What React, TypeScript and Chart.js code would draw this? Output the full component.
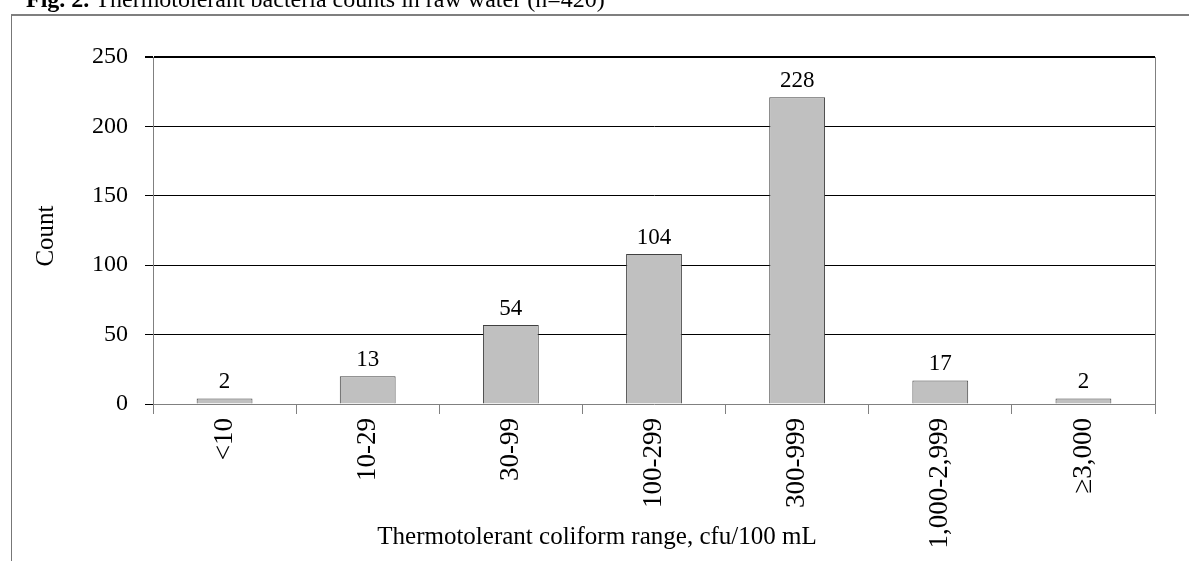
import React, { useEffect, useRef } from "react";
import { Chart, registerables } from "chart.js";

Chart.register(...registerables);

const categories = ["<10", "10-29", "30-99", "100-299", "300-999", "1,000-2,999", "≥3,000"];
// bar heights as drawn in the picture
const barHeights = [4, 20, 57, 108, 221, 17, 4];
// printed value labels above the bars
const valueLabels = ["2", "13", "54", "104", "228", "17", "2"];
const yTicks = [0, 50, 100, 150, 200, 250];

const titleBold = "Fig. 2.";
const titleRest = " Thermotolerant bacteria counts in raw water (n=420)";
const yTitle = "Count";
const xTitle = "Thermotolerant coliform range, cfu/100 mL";

const FONT = "'Liberation Serif', 'Times New Roman', serif";

const decorPlugin = {
  id: "decor",
  beforeDraw(chart: any) {
    const ctx = chart.ctx;
    ctx.save();
    ctx.fillStyle = "#ffffff";
    ctx.fillRect(0, 0, chart.width, chart.height);
    // frame
    ctx.strokeStyle = "#555555";
    ctx.lineWidth = 1.5;
    ctx.beginPath();
    ctx.moveTo(11, 15);
    ctx.lineTo(chart.width, 15);
    ctx.stroke();
    ctx.strokeStyle = "#777777";
    ctx.lineWidth = 1;
    ctx.beginPath();
    ctx.moveTo(11.5, 15);
    ctx.lineTo(11.5, chart.height);
    ctx.stroke();
    // title
    ctx.fillStyle = "#000";
    ctx.textBaseline = "alphabetic";
    ctx.textAlign = "left";
    ctx.font = `bold 24px ${FONT}`;
    ctx.fillText(titleBold, 26, 7);
    const w = ctx.measureText(titleBold).width;
    ctx.font = `24px ${FONT}`;
    ctx.fillText(titleRest, 26 + w, 7);
    ctx.restore();
  },
  afterDraw(chart: any) {
    const ctx = chart.ctx;
    const area = chart.chartArea;
    ctx.save();
    // right border
    ctx.strokeStyle = "#808080";
    ctx.lineWidth = 1;
    ctx.beginPath();
    ctx.moveTo(Math.round(area.right) + 0.5, area.top);
    ctx.lineTo(Math.round(area.right) + 0.5, area.bottom);
    ctx.stroke();
    // value labels
    const meta = chart.getDatasetMeta(0);
    ctx.fillStyle = "#000";
    ctx.font = `23px ${FONT}`;
    ctx.textAlign = "center";
    ctx.textBaseline = "alphabetic";
    meta.data.forEach((bar: any, i: number) => {
      ctx.fillText(valueLabels[i], bar.x, bar.y - 10);
    });
    // axis titles
    ctx.font = `25px ${FONT}`;
    ctx.textAlign = "center";
    ctx.textBaseline = "middle";
    ctx.fillText(xTitle, 597, 537);
    ctx.translate(46, 236);
    ctx.rotate(-Math.PI / 2);
    ctx.fillText(yTitle, 0, 0);
    ctx.restore();
  },
};

export default function App() {
  const ref = useRef<HTMLCanvasElement | null>(null);
  useEffect(() => {
    if (!ref.current) return;
    const chart = new Chart(ref.current, {
      type: "bar",
      data: {
        labels: categories,
        datasets: [
          {
            data: barHeights,
            backgroundColor: "#c0c0c0",
            borderColor: "#404040",
            borderWidth: 1,
            barPercentage: 0.78,
            categoryPercentage: 0.5,
          },
        ],
      },
      options: {
        animation: false,
        responsive: false,
        events: [],
        layout: { padding: { left: 0, top: 57, right: 34, bottom: 0 } },
        plugins: { legend: { display: false }, tooltip: { enabled: false }, title: { display: false } },
        scales: {
          x: {
            offset: true,
            grid: {
              offset: true,
              drawOnChartArea: false,
              drawTicks: true,
              tickLength: 10,
              color: "#808080",
            },
            border: { display: true, color: "#808080", width: 1 },
            ticks: {
              autoSkip: false,
              minRotation: 90,
              maxRotation: 90,
              padding: 4,
              color: "#000",
              font: { family: FONT, size: 27 },
            },
            afterFit(scale: any) {
              scale.height = 157;
            },
          },
          y: {
            min: 0,
            max: 250,
            afterBuildTicks(scale: any) {
              scale.ticks = yTicks.map((v) => ({ value: v }));
            },
            grid: {
              color: (c: any) => (c.tick && c.tick.value === 0 ? "rgba(0,0,0,0)" : "#000000"),
              lineWidth: (c: any) => (c.tick && c.tick.value === 250 ? 2 : 1),
              tickColor: "#000000",
              tickLength: 8,
              drawTicks: true,
            },
            border: { display: true, color: "#808080", width: 1 },
            ticks: {
              padding: 17,
              color: "#000",
              font: { family: FONT, size: 24 },
            },
            afterFit(scale: any) {
              scale.width = 153;
            },
          },
        },
      },
      plugins: [decorPlugin],
    } as any);
    return () => chart.destroy();
  }, []);
  return (
    <div style={{ position: "absolute", left: 0, top: 0, width: 1189, height: 561 }}>
      <canvas ref={ref} width={1189} height={561} style={{ display: "block", width: 1189, height: 561 }} />
    </div>
  );
}
